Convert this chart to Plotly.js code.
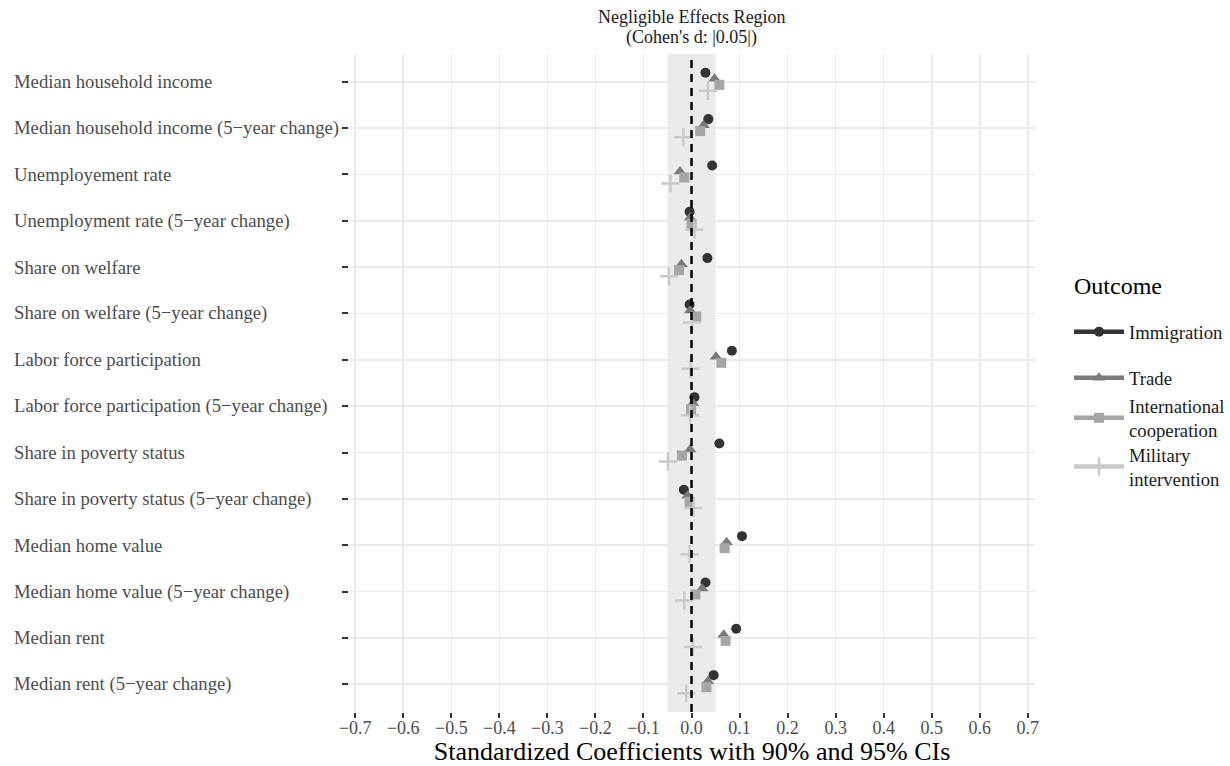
<!DOCTYPE html>
<html><head><meta charset="utf-8">
<script src="https://cdn.plot.ly/plotly-3.0.1.min.js"></script>
<style>body{margin:0;background:#fff}#chart{width:1230px;height:766px}</style>
</head><body><div id="chart"></div>
<script>
const categories = [
  "Median household income",
  "Median household income (5\u2212year change)",
  "Unemployement rate",
  "Unemployment rate (5\u2212year change)",
  "Share on welfare",
  "Share on welfare (5\u2212year change)",
  "Labor force participation",
  "Labor force participation (5\u2212year change)",
  "Share in poverty status",
  "Share in poverty status (5\u2212year change)",
  "Median home value",
  "Median home value (5\u2212year change)",
  "Median rent",
  "Median rent (5\u2212year change)"
];
const seriesNames = ["Immigration", "Trade", "International<br>cooperation", "Military<br>intervention"];
const immigration = [0.029, 0.035, 0.043, -0.004, 0.033, -0.004, 0.084, 0.006, 0.058, -0.016, 0.105, 0.029, 0.093, 0.046];
const trade       = [0.048, 0.025, -0.024, -0.003, -0.021, -0.003, 0.051, 0.003, -0.003, -0.008, 0.073, 0.022, 0.067, 0.034];
const cooperation = [0.058, 0.018, -0.015, 0.000, -0.026, 0.010, 0.062, -0.001, -0.020, -0.004, 0.069, 0.008, 0.071, 0.031];
const military    = [0.034, -0.017, -0.044, 0.006, -0.047, 0.001, -0.002, -0.003, -0.049, 0.004, -0.004, -0.015, 0.003, -0.011];
const xTicks = [-0.7,-0.6,-0.5,-0.4,-0.3,-0.2,-0.1,0,0.1,0.2,0.3,0.4,0.5,0.6,0.7];
const titleLines = ["Negligible Effects Region", "(Cohen's d: |0.05|)"];

const allSeries = [immigration, trade, cooperation, military];
const colors = ["#333333", "#7a7a7a", "#a6a6a6", "#cacaca"];
const symbols = ["circle", "triangle-up", "square", "cross-thin"];
const sizes = [10, 11, 10, 13];
const dodge = [-0.195, -0.065, 0.065, 0.195];
const legendIds = ["legend", "legend2", "legend3", "legend4"];
const legendY = [0.5775, 0.5076, 0.4468, 0.3728];
const serif = "Liberation Serif";

const traces = [];
allSeries.forEach((vals, k) => {
  const mk = {color: colors[k], size: sizes[k], symbol: symbols[k]};
  if (symbols[k] === "cross-thin") mk.line = {color: colors[k], width: 2.5};
  traces.push({
    type: "scatter", mode: "markers",
    x: vals, y: vals.map((v, i) => i + dodge[k]),
    marker: mk, showlegend: false, hoverinfo: "x"
  });
});
// legend entries (one legend box per entry, to space them like the original)
allSeries.forEach((vals, k) => {
  const mk = {color: colors[k], size: sizes[k], symbol: symbols[k]};
  if (symbols[k] === "cross-thin") mk.line = {color: colors[k], width: 2.5};
  traces.push({
    type: "scatter", mode: "lines+markers", x: [null], y: [null],
    name: seriesNames[k], legend: legendIds[k],
    line: {color: colors[k], width: 4.5}, marker: mk, showlegend: true
  });
});

const annotations = categories.map((c, i) => ({
  xref: "paper", yref: "y", x: -0.4913, y: i, xanchor: "left", yanchor: "middle",
  text: c, showarrow: false, font: {family: serif, size: 18.7, color: "#4d4d4d"}
}));
titleLines.forEach((t, j) => annotations.push({
  xref: "x", yref: "paper", x: 0, y: [1.0555, 1.0251][j], yanchor: "middle", xanchor: "center",
  text: t, showarrow: false, font: {family: serif, size: 18, color: "#1a1a1a"}
}));
annotations.push({
  xref: "paper", yref: "paper", x: 1.054, y: 0.6474, xanchor: "left", yanchor: "middle",
  text: "Outcome", showarrow: false, font: {family: serif, size: 24, color: "#000"}
});

const layout = {
  width: 1230, height: 766,
  margin: {l: 349, r: 195, t: 54, b: 54, pad: 0, autoexpand: false},
  paper_bgcolor: "#fff", plot_bgcolor: "#fff",
  font: {family: serif},
  xaxis: {
    range: [-0.713, 0.715], tickvals: xTicks,
    ticktext: xTicks.map(v => (v < 0 ? "\u2212" : "") + Math.abs(v).toFixed(1)),
    showgrid: true, gridcolor: "#ebebeb", gridwidth: 1.6, zeroline: false,
    ticks: "outside", ticklen: 5, tickwidth: 2, tickcolor: "#333",
    ticklabelstandoff: -6,
    tickfont: {family: serif, size: 18, color: "#4d4d4d"},
    title: {text: "Standardized Coefficients with 90% and 95% CIs", font: {family: serif, size: 26, color: "#000"}, standoff: 10},
    showline: false
  },
  yaxis: {
    range: [13.6, -0.6], tickvals: categories.map((c, i) => i), showticklabels: false,
    showgrid: true, gridcolor: "#ebebeb", gridwidth: 1.6, zeroline: false,
    ticks: "outside", ticklen: 6, tickwidth: 2, tickcolor: "#333", showline: false
  },
  shapes: [
    {type: "rect", xref: "x", yref: "paper", x0: -0.05, x1: 0.05, y0: 0, y1: 1,
     fillcolor: "#ebebeb", line: {width: 0}, layer: "below"},
    {type: "line", xref: "x", yref: "paper", x0: 0, x1: 0, y0: 0, y1: 1,
     line: {color: "#000", width: 2.5, dash: "8px,6px"}, layer: "above"}
  ],
  annotations: annotations
};
legendIds.forEach((id, k) => {
  layout[id] = {
    x: 1.0496, xanchor: "left", y: legendY[k], yanchor: "middle",
    font: {family: serif, size: 18.7, color: "#1a1a1a"},
    itemwidth: 50, bgcolor: "rgba(0,0,0,0)"
  };
});
Plotly.newPlot("chart", traces, layout, {displayModeBar: false, staticPlot: true});
</script></body></html>
